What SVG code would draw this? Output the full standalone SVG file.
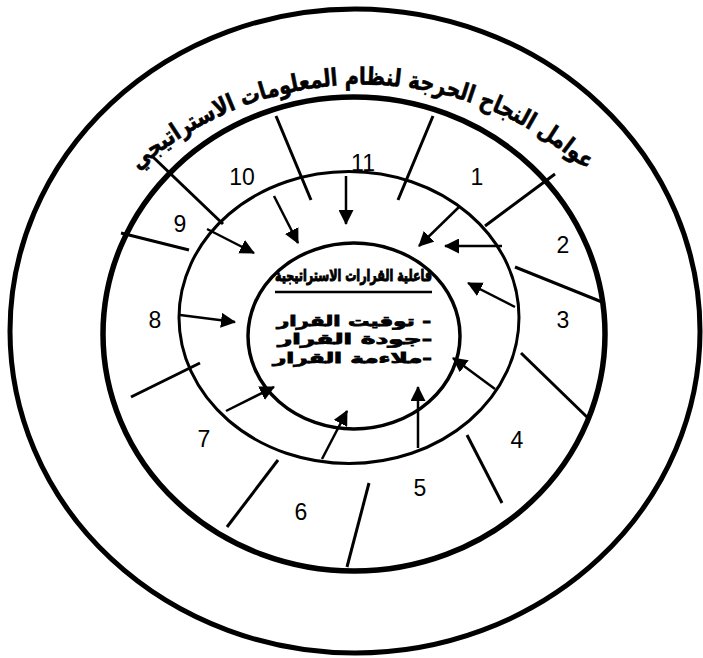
<svg xmlns="http://www.w3.org/2000/svg" width="703" height="658" viewBox="0 0 703 658">
<style>
.ring{fill:none;stroke:#000}
.spoke{stroke:#000;stroke-width:3;fill:none}
.arr{stroke:#000;stroke-width:2.5;fill:none;marker-end:url(#ah)}
.num{font-family:"Liberation Sans",Arial,sans-serif;font-size:23px;fill:#000;text-anchor:middle}
.ar{font-family:"DejaVu Sans",sans-serif;font-weight:bold;fill:#000;stroke:#000}
</style>
<defs>
<marker id="ah" viewBox="0 0 15 15" refX="14" refY="7.5" markerWidth="15" markerHeight="15" markerUnits="userSpaceOnUse" orient="auto">
<path d="M0,0 L15,7.5 L0,15 Z" fill="#000"/>
</marker>
<path id="arcText" d="M 32 362 A 335 335 0 0 1 692 362" fill="none"/>
</defs>
<rect width="703" height="658" fill="#fff"/>
<g id="outer-ring">
<ellipse class="ring" cx="355" cy="331" rx="345" ry="322" stroke-width="5"/>
<text class="ar" font-size="24" stroke-width="0.6" direction="rtl"><textPath href="#arcText" startOffset="50%" text-anchor="middle" textLength="490" lengthAdjust="spacingAndGlyphs">عوامل النجاح الحرجة لنظام المعلومات الاستراتيجي</textPath></text>
</g>
<g id="factors-ring">
<ellipse class="ring" cx="354" cy="334" rx="251" ry="237" stroke-width="5.5"/>
<text class="num" x="477" y="185">1</text>
<text class="num" x="563" y="253">2</text>
<text class="num" x="563" y="328">3</text>
<text class="num" x="517" y="448">4</text>
<text class="num" x="420" y="496">5</text>
<text class="num" x="301" y="520">6</text>
<text class="num" x="204" y="447">7</text>
<text class="num" x="155" y="328">8</text>
<text class="num" x="180" y="232">9</text>
<text class="num" x="242" y="185">10</text>
<text class="num" x="363" y="171">11</text>
</g>
<g id="middle-ring">
<ellipse class="ring" cx="349" cy="317.5" rx="170" ry="146" stroke-width="3"/>
</g>
<g id="center">
<ellipse class="ring" cx="354" cy="336" rx="106" ry="93" stroke-width="3.5"/>
<text class="ar" font-size="16" stroke-width="1" x="432" y="281" direction="rtl" textLength="157" lengthAdjust="spacingAndGlyphs">فاعلية القرارات الاستراتيجية</text>
<line x1="275" y1="292" x2="432" y2="292" stroke="#000" stroke-width="2.5"/>
<text class="ar" font-size="14" stroke-width="0.8" x="431" y="326" direction="rtl" textLength="154" lengthAdjust="spacingAndGlyphs">- توقيت القرار</text>
<text class="ar" font-size="14" stroke-width="0.8" x="432" y="344" direction="rtl" textLength="154" lengthAdjust="spacingAndGlyphs">-جودة القرار</text>
<text class="ar" font-size="14" stroke-width="0.8" x="432" y="363" direction="rtl" textLength="159" lengthAdjust="spacingAndGlyphs">-ملاءمة القرار</text>
</g>
<g id="connectors">
<line class="spoke" x1="276" y1="116" x2="311" y2="200"/>
<line class="spoke" x1="433" y1="116" x2="398" y2="200"/>
<line class="spoke" x1="555" y1="174" x2="485" y2="226"/>
<line class="spoke" x1="515" y1="267" x2="602" y2="302"/>
<line class="spoke" x1="521" y1="353" x2="589" y2="419"/>
<line class="spoke" x1="467" y1="435" x2="502" y2="503"/>
<line class="spoke" x1="369" y1="483" x2="347" y2="567"/>
<line class="spoke" x1="278" y1="460" x2="227" y2="527"/>
<line class="spoke" x1="200" y1="363" x2="131" y2="397"/>
<line class="spoke" x1="121" y1="233" x2="189" y2="250"/>
<line class="spoke" x1="153" y1="157" x2="223" y2="224"/>
<line class="arr" x1="274" y1="196" x2="298" y2="243"/>
<line class="arr" x1="346" y1="176" x2="346" y2="224"/>
<line class="arr" x1="459" y1="207" x2="419" y2="246"/>
<line class="arr" x1="502" y1="246" x2="445" y2="246"/>
<line class="arr" x1="515" y1="307" x2="468" y2="283"/>
<line class="arr" x1="495" y1="389" x2="453" y2="358"/>
<line class="arr" x1="418" y1="448" x2="418" y2="387"/>
<line class="arr" x1="322" y1="459" x2="347" y2="411"/>
<line class="arr" x1="226" y1="411" x2="274" y2="387"/>
<line class="arr" x1="180" y1="315" x2="235" y2="322"/>
<line class="arr" x1="207" y1="229" x2="254" y2="253"/>
</g>
</svg>
